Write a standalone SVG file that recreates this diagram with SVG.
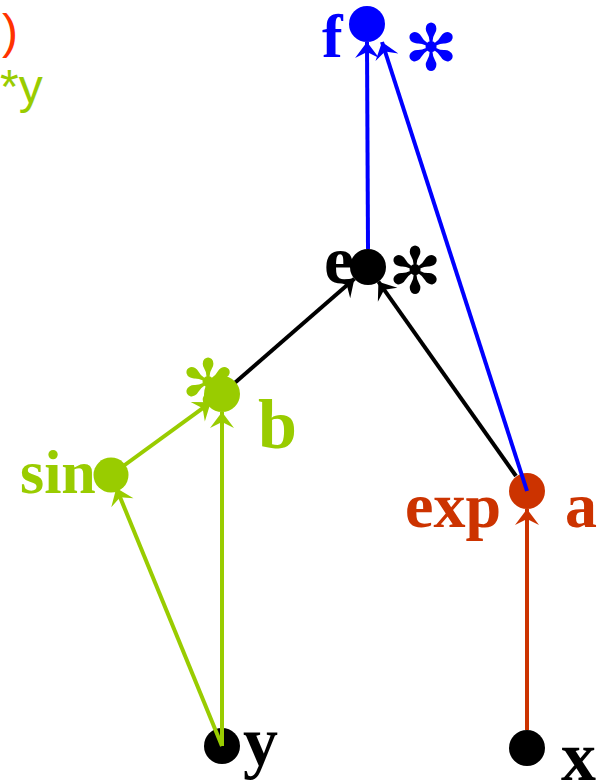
<svg xmlns="http://www.w3.org/2000/svg" width="607" height="784" viewBox="0 0 607 784">
<style>
.lbl{font-family:"Liberation Serif","Times New Roman",serif;font-weight:bold;}
.ast{font-family:"DejaVu Sans",sans-serif;font-size:64px;}
.leg{font-family:"Liberation Sans",Arial,sans-serif;font-size:48px;}
.e{fill:none;stroke-width:4;}
</style>
<defs>
<marker id="mb" viewBox="-19 -14 20 28" refX="0" refY="0" markerWidth="20" markerHeight="28" markerUnits="userSpaceOnUse" orient="auto"><path d="M0,0 L-16,-12 L-10,0 L-16,12 Z" fill="#0000ff"/></marker>
<marker id="mg" viewBox="-19 -14 20 28" refX="0" refY="0" markerWidth="20" markerHeight="28" markerUnits="userSpaceOnUse" orient="auto"><path d="M0,0 L-16,-12 L-10,0 L-16,12 Z" fill="#99cc00"/></marker>
<marker id="mr" viewBox="-19 -14 20 28" refX="0" refY="0" markerWidth="20" markerHeight="28" markerUnits="userSpaceOnUse" orient="auto"><path d="M0,0 L-16,-12 L-10,0 L-16,12 Z" fill="#cc3300"/></marker>
<marker id="mk" viewBox="-19 -14 20 28" refX="0" refY="0" markerWidth="20" markerHeight="28" markerUnits="userSpaceOnUse" orient="auto"><path d="M0,0 L-16,-12 L-10,0 L-16,12 Z" fill="#000"/></marker>
</defs>
<g id="legend">
<text class="leg" x="2" y="48" fill="#ff3300">)</text>
<text class="leg" x="0" y="103" fill="#99cc00">*y</text>
</g>
<g id="node-x">
<circle cx="527" cy="748" r="18" fill="#000"/>
<text class="lbl" x="561" y="780" font-size="70" fill="#000">x</text>
</g>
<g id="node-y">
<circle cx="222" cy="746" r="18" fill="#000"/>
<text class="lbl" x="243" y="765" font-size="70" fill="#000">y</text>
</g>
<g id="node-a">
<circle cx="527" cy="491" r="18" fill="#cc3300"/>
<text class="lbl" x="405" y="527" font-size="64" fill="#cc3300">exp</text>
<text class="lbl" x="565" y="527" font-size="64" fill="#cc3300">a</text>
</g>
<g id="connectors">
<line class="e" stroke="#cc3300" x1="527" y1="730" x2="527" y2="509" marker-end="url(#mr)"/>
<line class="e" stroke="#99cc00" x1="222" y1="746" x2="222" y2="412" marker-end="url(#mg)"/>
<line class="e" stroke="#99cc00" x1="222" y1="746" x2="116.3" y2="488" marker-end="url(#mg)"/>
<line class="e" stroke="#99cc00" x1="111" y1="475" x2="210.7" y2="402.3" marker-end="url(#mg)"/>
<line class="e" stroke="#000" x1="222" y1="394" x2="354.4" y2="278.8" marker-end="url(#mk)"/>
<line class="e" stroke="#000" x1="516" y1="476" x2="378.4" y2="281.7" marker-end="url(#mk)"/>
<line class="e" stroke="#0000ff" x1="368" y1="249" x2="367" y2="42" marker-end="url(#mb)"/>
<line class="e" stroke="#0000ff" x1="527" y1="491" x2="382" y2="42" marker-end="url(#mb)"/>
</g>
<g id="node-sin">
<circle cx="111" cy="475" r="17.5" fill="#99cc00"/>
<text class="lbl" x="20" y="493" font-size="62" fill="#99cc00">sin</text>
</g>
<g id="node-b">
<text class="ast" x="208" y="405" text-anchor="middle" fill="#99cc00">✻</text>
<circle cx="222" cy="394" r="18" fill="#99cc00"/>
<text class="lbl" x="258" y="448" font-size="70" fill="#99cc00">b</text>
</g>
<g id="node-e">
<text class="lbl" x="324" y="283" font-size="68" fill="#000">e</text>
<circle cx="368" cy="267" r="18" fill="#000"/>
<text class="ast" x="415" y="293" text-anchor="middle" fill="#000">✻</text>
</g>
<g id="node-f">
<text class="lbl" x="322" y="57" font-size="62" fill="#0000ff">f</text>
<circle cx="367" cy="24" r="18" fill="#0000ff"/>
<text class="ast" x="431" y="70" text-anchor="middle" fill="#0000ff">✻</text>
</g>
</svg>
